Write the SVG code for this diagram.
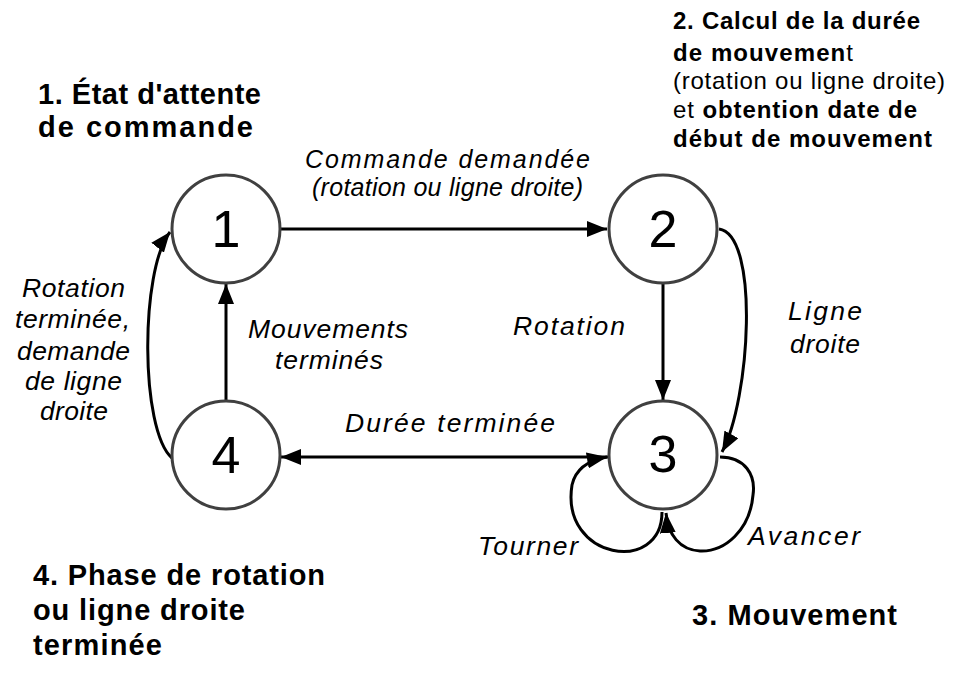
<svg xmlns="http://www.w3.org/2000/svg" width="955" height="673" viewBox="0 0 955 673">
<style>
  text { font-family: "Liberation Sans", Arial, sans-serif; fill: #000; }
  .hb { font-weight: bold; font-size: 29px; }
  .h2 { font-weight: bold; font-size: 24px; }
  .n { font-weight: normal; }
  .lab { font-style: italic; font-size: 26.5px; }
  .lab24 { font-style: italic; font-size: 25px; }
  .num { font-size: 52px; text-anchor: middle; }
  .node circle { fill: #fff; stroke: #404040; stroke-width: 3; }
  .edge { fill: none; stroke: #000; stroke-width: 3; }
</style>
<defs>
  <marker id="ah" markerUnits="userSpaceOnUse" markerWidth="22" markerHeight="16" refX="20" refY="8" orient="auto-start-reverse">
    <path d="M0,0 L20,8 L0,16 z" fill="#000"/>
  </marker>
</defs>
<rect width="955" height="673" fill="#fff"/>

<g id="connectors">
  <path class="edge" d="M280 229 L607 229" marker-end="url(#ah)"/>
  <path class="edge" d="M663 284 L663 400" marker-end="url(#ah)"/>
  <path class="edge" d="M719 229 C760 235, 750 400, 722 452" marker-end="url(#ah)"/>
  <path class="edge" d="M226 401 L226 284" marker-end="url(#ah)"/>
  <path class="edge" d="M172 458 C140 430, 140 270, 170 232" marker-end="url(#ah)"/>
  <path class="edge" d="M608 457 L281 457" marker-end="url(#ah)"/>
  <path class="edge" d="M662 512 C662 575, 560 560, 572 485 C576 467, 590 460, 607 457" marker-end="url(#ah)"/>
  <path class="edge" d="M720 457 C745 457, 756 475, 753 495 C750 530, 725 552, 700 551 C680 550, 668 535, 666 513" marker-end="url(#ah)"/>
</g>

<g id="node1" class="node">
  <circle cx="226" cy="229" r="54"/>
  <text class="num" x="226" y="247">1</text>
</g>
<g id="node2" class="node">
  <circle cx="663" cy="229" r="54"/>
  <text class="num" x="663" y="247">2</text>
</g>
<g id="node3" class="node">
  <circle cx="663" cy="455" r="54"/>
  <text class="num" x="663" y="472">3</text>
</g>
<g id="node4" class="node">
  <circle cx="226" cy="455" r="54"/>
  <text class="num" x="226" y="473">4</text>
</g>

<g id="state-labels">
  <text class="hb" x="38" y="104" textLength="223" lengthAdjust="spacing">1. État d'attente</text>
  <text class="hb" x="38" y="137" textLength="215" lengthAdjust="spacing">de commande</text>

  <text class="h2" x="673" y="29" textLength="247" lengthAdjust="spacing">2. Calcul de la durée</text>
  <text class="h2" x="673" y="61" textLength="180" lengthAdjust="spacing">de mouvemen<tspan class="n">t</tspan></text>
  <text class="h2 n" x="673" y="89" textLength="272" lengthAdjust="spacing">(rotation ou ligne droite)</text>
  <text class="h2" x="673" y="118" textLength="244" lengthAdjust="spacing"><tspan class="n">et </tspan>obtention date de</text>
  <text class="h2" x="673" y="147" textLength="259" lengthAdjust="spacing">début de mouvement</text>

  <text class="hb" x="692" y="625" textLength="205" lengthAdjust="spacing">3. Mouvement</text>

  <text class="hb" x="33" y="585" textLength="292" lengthAdjust="spacing">4. Phase de rotation</text>
  <text class="hb" x="33" y="620" textLength="212" lengthAdjust="spacing">ou ligne droite</text>
  <text class="hb" x="33" y="655" textLength="129" lengthAdjust="spacing">terminée</text>
</g>

<g id="edge-labels">
  <text class="lab24" x="305" y="168" textLength="285" lengthAdjust="spacing">Commande demandée</text>
  <text class="lab24" x="312" y="196" textLength="271" lengthAdjust="spacing">(rotation ou ligne droite)</text>
  <text class="lab" x="248" y="338" textLength="160" lengthAdjust="spacing">Mouvements</text>
  <text class="lab" x="275" y="369" textLength="108" lengthAdjust="spacing">terminés</text>
  <text class="lab" x="513" y="335" textLength="112" lengthAdjust="spacing">Rotation</text>
  <text class="lab" x="788" y="320" textLength="74" lengthAdjust="spacing">Ligne</text>
  <text class="lab" x="790" y="353" textLength="70" lengthAdjust="spacing">droite</text>
  <text class="lab" x="22" y="297" textLength="103" lengthAdjust="spacing">Rotation</text>
  <text class="lab" x="15" y="328" textLength="115" lengthAdjust="spacing">terminée,</text>
  <text class="lab" x="17" y="360" textLength="113" lengthAdjust="spacing">demande</text>
  <text class="lab" x="25" y="390" textLength="97" lengthAdjust="spacing">de ligne</text>
  <text class="lab" x="40" y="420" textLength="68" lengthAdjust="spacing">droite</text>
  <text class="lab" x="345" y="432" textLength="210" lengthAdjust="spacing">Durée terminée</text>
  <text class="lab" x="478" y="555" textLength="100" lengthAdjust="spacing">Tourner</text>
  <text class="lab" x="748" y="545" textLength="112" lengthAdjust="spacing">Avancer</text>
</g>
</svg>
